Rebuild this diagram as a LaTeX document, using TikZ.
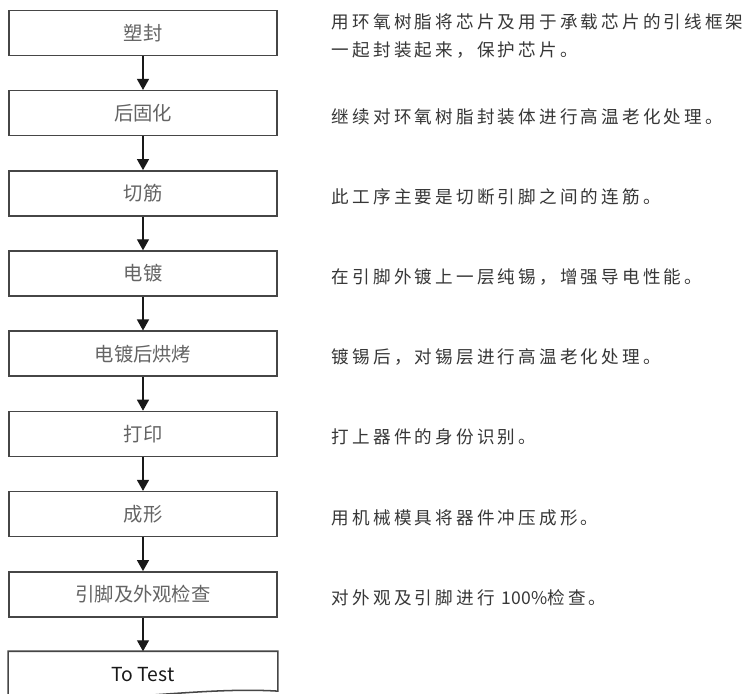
\documentclass[tikz,border=0pt]{standalone}
\usepackage{fontspec}
\setmainfont{Noto Sans CJK SC}
\newfontfamily\descfont[LetterSpace=18]{Noto Sans CJK SC}
\usetikzlibrary{positioning,calc,arrows.meta}
\definecolor{paper}{RGB}{255,255,255}
\definecolor{frame}{RGB}{70,70,70}
\definecolor{ink}{RGB}{25,25,25}
\definecolor{muted}{RGB}{100,100,100}
\definecolor{notes}{RGB}{55,55,55}
\tikzset{
  stage/.style={draw=frame, line width=1.3pt, fill=white, minimum width=8.04cm, minimum height=1.35cm, inner sep=0pt, font=\fontsize{16.5}{18}\selectfont, text=muted},
  flow/.style={-{Triangle[length=3.3mm,width=3.6mm]}, line width=1.1pt, draw=ink},
  note/.style={font=\descfont\fontsize{15}{24}\selectfont, text=notes, align=left, inner sep=0pt, anchor=west, yshift=-0.1cm},
}

\begin{document}
\begin{tikzpicture}[x=1cm,y=1cm]
  \fill[paper] (0,0) rectangle (22.53,-20.82);
  \useasboundingbox (0,0) rectangle (22.53,-20.82);

  % Process stages
  \node[stage] (mold) at (4.29,-0.99) {塑封};
  \node[stage, below=1.01cm of mold] (cure) {后固化};
  \node[stage, below=1.01cm of cure] (trim) {切筋};
  \node[stage, below=1.01cm of trim] (plate) {电镀};
  \node[stage, below=1.01cm of plate] (bake) {电镀后烘烤};
  \node[stage, below=1.01cm of bake] (mark) {打印};
  \node[stage, below=1.01cm of mark] (form) {成形};
  \node[stage, below=1.01cm of form] (insp) {引脚及外观检查};
  \node[stage, draw=none, fill=none, text=ink, below=1.01cm of insp] (test) {To Test};

  % Document outline for the last stage
  \draw[frame, line width=1.3pt] (test.north west) -- ($(test.south west)+(0,0.08)$)
    .. controls ($(test.south)+(-1.2,-0.25)$) and ($(test.south)+(1.5,0.35)$) .. ($(test.south east)+(0,0.2)$)
    -- (test.north east) -- cycle;

  % Connections
  \draw[flow] (mold.south) -- (cure.north);
  \draw[flow] (cure.south) -- (trim.north);
  \draw[flow] (trim.south) -- (plate.north);
  \draw[flow] (plate.south) -- (bake.north);
  \draw[flow] (bake.south) -- (mark.north);
  \draw[flow] (mark.south) -- (form.north);
  \draw[flow] (form.south) -- (insp.north);
  \draw[flow] (insp.south) -- (test.north);

  % Notes
  \node[note, right=1.62cm of mold] (moldtxt) {用环氧树脂将芯片及用于承载芯片的引线框架\\一起封装起来，保护芯片。};
  \node[note, right=1.62cm of cure] (curetxt) {继续对环氧树脂封装体进行高温老化处理。};
  \node[note, right=1.62cm of trim] (trimtxt) {此工序主要是切断引脚之间的连筋。};
  \node[note, right=1.62cm of plate] (platetxt) {在引脚外镀上一层纯锡，增强导电性能。};
  \node[note, right=1.62cm of bake] (baketxt) {镀锡后，对锡层进行高温老化处理。};
  \node[note, right=1.62cm of mark] (marktxt) {打上器件的身份识别。};
  \node[note, right=1.62cm of form] (formtxt) {用机械模具将器件冲压成形。};
  \node[note, right=1.62cm of insp] (insptxt) {对外观及引脚进行 {\rmfamily 100\%}检查。};
\end{tikzpicture}
\end{document}
